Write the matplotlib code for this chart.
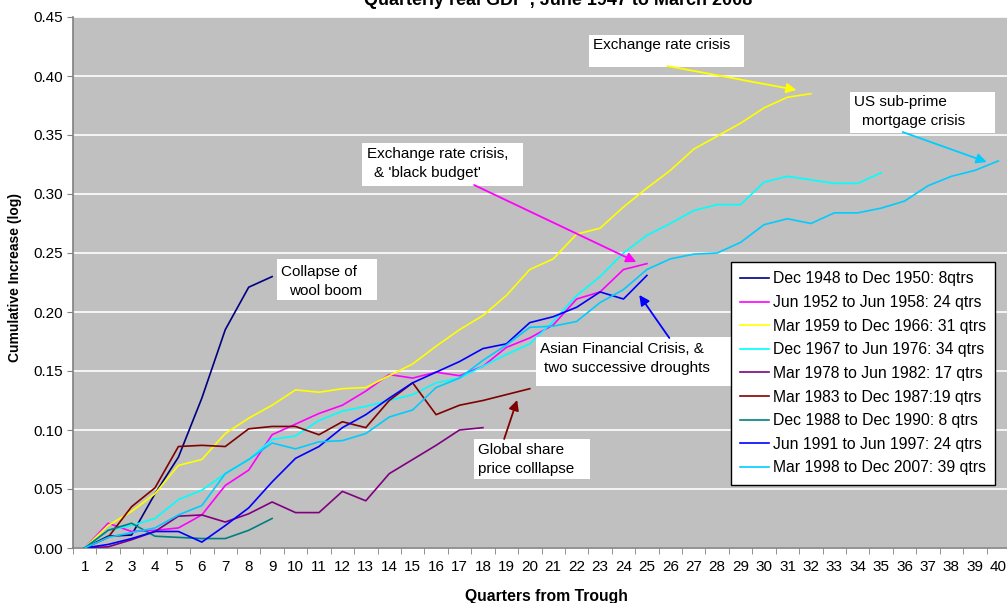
import matplotlib
matplotlib.use("Agg")
import matplotlib.pyplot as plt
from matplotlib.patches import Rectangle

plt.rcParams['font.family'] = ['Liberation Sans', 'DejaVu Sans']

# cumulative log increase from trough, one value per quarter starting at quarter 1
labels = ["Dec 1948 to Dec 1950: 8qtrs", "Jun 1952 to Jun 1958: 24 qtrs",
          "Mar 1959 to Dec 1966: 31 qtrs", "Dec 1967 to Jun 1976: 34 qtrs",
          "Mar 1978 to Jun 1982: 17 qtrs", "Mar 1983 to Dec 1987:19 qtrs",
          "Dec 1988 to Dec 1990: 8 qtrs", "Jun 1991 to Jun 1997: 24 qtrs",
          "Mar 1998 to Dec 2007: 39 qtrs"]
colors = ["#000080", "#FF00FF", "#FFFF00", "#00FFFF", "#800080",
          "#800000", "#008080", "#0000FF", "#00CCFF"]

s1948 = [0, 0.010, 0.011, 0.046, 0.077, 0.127, 0.185, 0.221, 0.230]
s1952 = [0, 0.021, 0.014, 0.015, 0.017, 0.028, 0.053, 0.066, 0.096, 0.105,
         0.114, 0.121, 0.133, 0.147, 0.144, 0.149, 0.146, 0.154, 0.170, 0.178,
         0.189, 0.211, 0.217, 0.236, 0.241]
s1959 = [0, 0.019, 0.031, 0.046, 0.070, 0.075, 0.097, 0.110, 0.121, 0.134,
         0.132, 0.135, 0.136, 0.146, 0.156, 0.171, 0.185, 0.197, 0.214, 0.236,
         0.245, 0.266, 0.271, 0.289, 0.305, 0.320, 0.338, 0.349, 0.360, 0.373,
         0.382, 0.385]
s1967 = [0, 0.015, 0.019, 0.025, 0.041, 0.049, 0.063, 0.075, 0.092, 0.095,
         0.108, 0.116, 0.120, 0.125, 0.130, 0.140, 0.144, 0.154, 0.164, 0.173,
         0.192, 0.214, 0.230, 0.250, 0.265, 0.275, 0.286, 0.291, 0.291, 0.310,
         0.315, 0.312, 0.309, 0.309, 0.318]
s1978 = [0, 0.001, 0.007, 0.014, 0.027, 0.028, 0.022, 0.029, 0.039, 0.030,
         0.030, 0.048, 0.040, 0.063, 0.075, 0.087, 0.100, 0.102]
s1983 = [0, 0.009, 0.035, 0.051, 0.086, 0.087, 0.086, 0.101, 0.103, 0.103,
         0.096, 0.107, 0.102, 0.125, 0.140, 0.113, 0.121, 0.125, 0.130, 0.135]
s1988 = [0, 0.015, 0.021, 0.010, 0.009, 0.008, 0.008, 0.015, 0.025]
s1991 = [0, 0.003, 0.008, 0.014, 0.014, 0.005, 0.019, 0.034, 0.056, 0.076,
         0.086, 0.102, 0.113, 0.127, 0.140, 0.149, 0.158, 0.169, 0.173, 0.191,
         0.196, 0.204, 0.217, 0.211, 0.231]
s1998 = [0, 0.009, 0.013, 0.017, 0.028, 0.036, 0.063, 0.075, 0.089, 0.084,
         0.090, 0.091, 0.097, 0.111, 0.117, 0.136, 0.144, 0.159, 0.172, 0.187,
         0.188, 0.192, 0.208, 0.219, 0.236, 0.245, 0.249, 0.250, 0.259, 0.274,
         0.279, 0.275, 0.284, 0.284, 0.288, 0.294, 0.307, 0.315, 0.320, 0.328]
series = [s1948, s1952, s1959, s1967, s1978, s1983, s1988, s1991, s1998]

W, H = 1007, 603
fig = plt.figure(figsize=(W / 100, H / 100), dpi=100)
ax = fig.add_axes([73 / W, (H - 548) / H, 937 / W, 531 / H])
ax.set_facecolor("#C0C0C0")


def px(x, y):
    # picture pixel -> data coords
    return 1 + (x - 86) / 23.4, (548 - y) / 1180.0


for vals, lab, col in zip(series, labels, colors):
    ax.plot(range(1, len(vals) + 1), vals, color=col, lw=1.2, label=lab, zorder=3)

ax.set_xlim(0.5, 40.5)
ax.set_ylim(0, 0.45)
ax.set_yticks([i * 0.05 for i in range(10)])
ax.set_yticklabels(["%.2f" % (i * 0.05) for i in range(10)], fontsize=11)
ax.set_xticks(range(1, 41))
ax.set_xticklabels([str(i) for i in range(1, 41)], fontsize=11)
ax.set_xticks([i + 0.5 for i in range(0, 41)], minor=True)
ax.tick_params(axis='x', which='major', length=0, pad=8.5)
ax.tick_params(axis='x', which='minor', length=4, color="#808080")
ax.tick_params(axis='y', length=4, color="#808080")
ax.grid(axis='y', color="white", lw=1.2, zorder=0)
ax.set_axisbelow(True)
for sp in ["top", "right"]:
    ax.spines[sp].set_visible(False)
for sp in ["left", "bottom"]:
    ax.spines[sp].set_color("#808080")
    ax.spines[sp].set_linewidth(1.2)

fig.text(558 / W, 1.0 - 5 / H, "Quarterly real GDP , June 1947 to March 2008",
         ha="center", va="baseline", fontsize=13, fontweight="bold")
fig.text(546 / W, 1 - 596 / H, "Quarters from Trough", ha="center", va="center",
         fontsize=11.3, fontweight="bold")
fig.text(15 / W, 1 - 278 / H, "Cumulative Increase (log)", ha="center", va="center",
         rotation=90, fontsize=10, fontweight="bold")


def box(x0, y0, x1, y1):
    qa, va = px(x0, y1)
    qb, vb = px(x1, y0)
    ax.add_patch(Rectangle((qa, va), qb - qa, vb - va, facecolor="white",
                           edgecolor="none", zorder=4))


def note(x, y, s, **kw):
    q, v = px(x, y)
    ax.text(q, v, s, fontsize=11, va="center", zorder=5, **kw)


def arrow(x0, y0, x1, y1, col):
    ax.annotate("", xy=px(x1, y1), xytext=px(x0, y0), zorder=5,
                arrowprops=dict(arrowstyle="-|>", color=col, lw=1.3,
                                mutation_scale=15, shrinkA=0, shrinkB=0))


box(278, 259, 378, 300)
note(282, 272, "Collapse of")
note(290, 291, "wool boom")

box(590, 35, 745, 67)
note(594, 45, "Exchange rate crisis")
arrow(668, 66, 797, 90, "#FFFF00")

box(850, 92, 995, 133)
note(854, 102, "US sub-prime")
note(862, 121, "mortgage crisis")
arrow(903, 132, 987, 162, "#00CCFF")

box(363, 143, 524, 186)
note(368, 154, "Exchange rate crisis,")
note(375, 173, "& 'black budget'")
arrow(475, 185, 637, 262, "#FF00FF")

box(537, 337, 740, 386)
note(541, 349, "Asian Financial Crisis, &")
note(545, 368, "two successive droughts")
arrow(670, 338, 640, 295, "#0000FF")

box(475, 439, 591, 479)
note(479, 450, "Global share")
note(479, 469, "price colllapse")
arrow(505, 439, 518, 400, "#800000")

leg = ax.legend(loc="upper left", bbox_to_anchor=((731 - 73) / 937, 1 - (262 - 17) / 531),
                fontsize=11.3, frameon=True, fancybox=False, framealpha=1,
                edgecolor="black", borderpad=0.6, labelspacing=0.55,
                handlelength=1.8, handletextpad=0.25, borderaxespad=0)
leg.get_frame().set_linewidth(1.0)
leg.set_zorder(6)

fig.savefig("out.png", dpi=100)
